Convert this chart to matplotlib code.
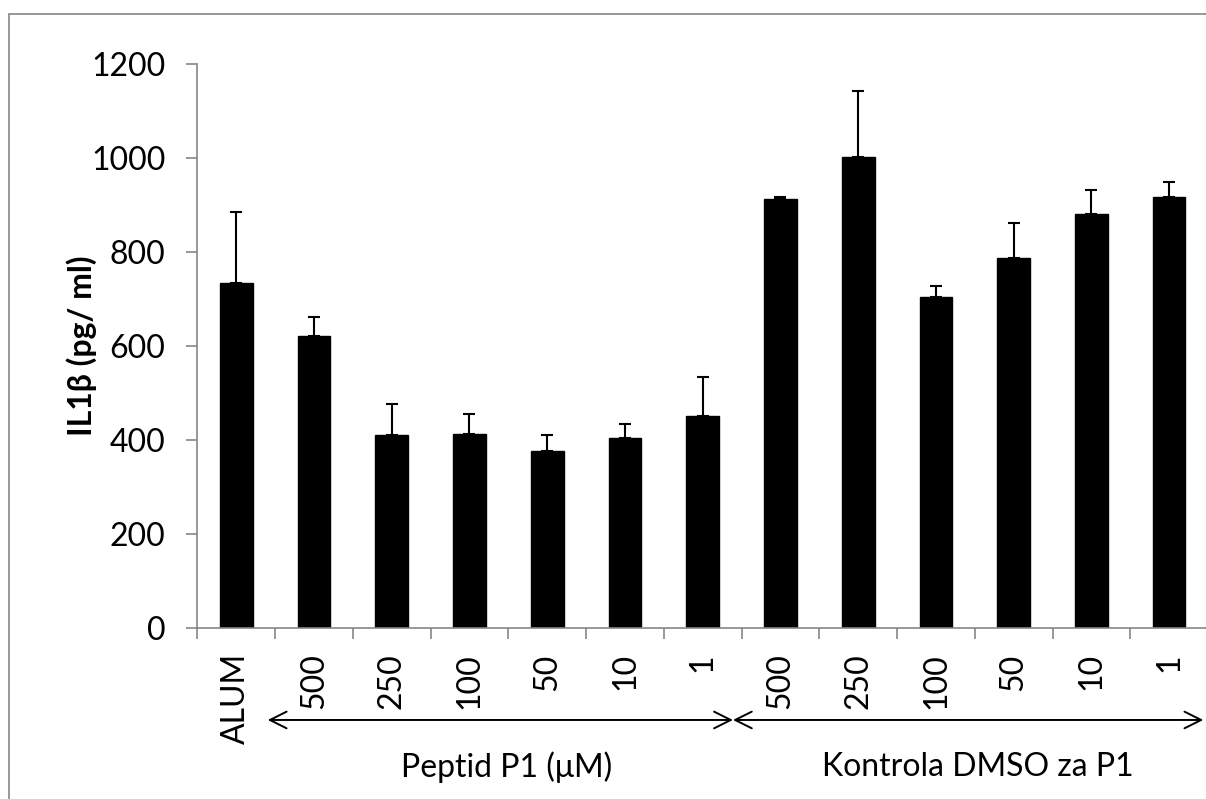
import matplotlib
matplotlib.use("Agg")
import matplotlib.pyplot as plt
import matplotlib.transforms as mtransforms
from matplotlib.patches import Rectangle

plt.rcParams['font.family'] = ['Lato', 'DejaVu Sans']

# IL1beta readout, mean and upper error
labels = ['ALUM', '500', '250', '100', '50', '10', '1',
          '500', '250', '100', '50', '10', '1']
means = [735, 622, 412, 414, 378, 405, 452,
         912, 1003, 704, 788, 881, 918]
errors = [151, 41, 64, 42, 33, 30, 82,
          5, 140, 24, 73, 51, 31]

groups = ['Peptid P1 (\u03bcM)', 'Kontrola DMSO za P1']

axis_grey = '#868686'

fig = plt.figure(figsize=(12.06, 7.99), dpi=100)
ax = fig.add_axes([197.4 / 1206, 0.2136, (1208 - 197.4) / 1206, 0.7063])

x = list(range(len(labels)))
ax.bar(x, means, width=0.42, color='black', edgecolor='black', zorder=2)
ax.errorbar(x, means, yerr=[[0] * len(errors), errors], fmt='none',
            ecolor='black', elinewidth=1.5, capsize=4.3, capthick=1.5, zorder=3)

ax.set_xlim(-0.5, len(labels) - 0.5)
ax.set_ylim(0, 1200)
ax.set_yticks(range(0, 1201, 200))
ax.tick_params(axis='y', labelsize=23, length=8, width=1.2, color=axis_grey,
               direction='out', pad=15)

# labels sit under the bars, ticks mark the category borders
ax.set_xticks(x)
ax.set_xticklabels(labels, rotation=90, fontsize=23)
ax.tick_params(axis='x', which='major', length=0, pad=18)
ax.set_xticks([i - 0.5 for i in range(len(labels) + 1)], minor=True)
ax.tick_params(axis='x', which='minor', length=8, width=1.2, color=axis_grey,
               direction='out')

for side in ['top', 'right']:
    ax.spines[side].set_visible(False)
for side in ['left', 'bottom']:
    ax.spines[side].set_color(axis_grey)
    ax.spines[side].set_linewidth(1.2)

ax.set_ylabel('IL1\u03b2 (pg/ ml)', fontsize=23, fontweight='bold', labelpad=-4)

# group arrows and captions below the tick labels
trans = mtransforms.blended_transform_factory(ax.transData, fig.transFigure)
arrow_y = 0.0989
for x0, x1 in [(0.405, 6.389), (6.389, 12.44)]:
    ax.annotate('', xy=(x1, arrow_y), xytext=(x0, arrow_y),
                xycoords=trans, textcoords=trans, annotation_clip=False,
                arrowprops=dict(arrowstyle='<->,head_length=0.6,head_width=0.3',
                                mutation_scale=20, lw=1.4, color='black',
                                shrinkA=0, shrinkB=0))
for xc, name in zip([3.48, 9.54], groups):
    ax.text(xc, 0.0404, name, transform=trans, ha='center', va='center',
            fontsize=23)

# outer frame of the chart area, running off the right and bottom edges
fig.patches.append(Rectangle((8.7 / 1206, -0.1), 1.1, 1.1 - 14 / 799,
                             transform=fig.transFigure, fill=False,
                             edgecolor=axis_grey, linewidth=1.2))

fig.savefig('out.png', dpi=100)
